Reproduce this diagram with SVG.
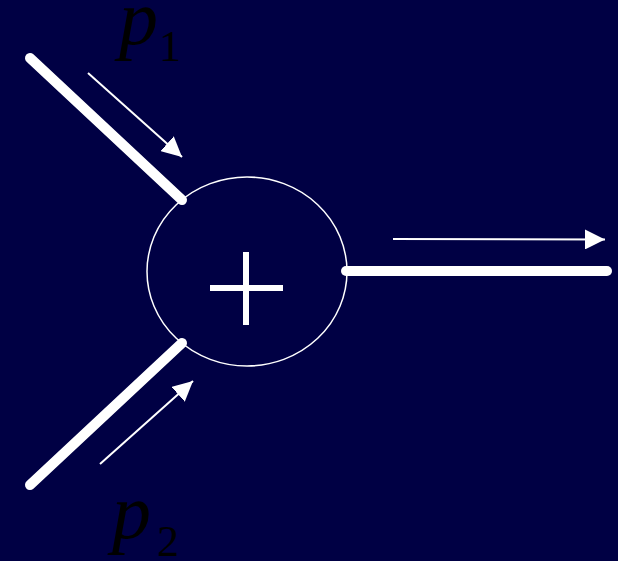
<svg xmlns="http://www.w3.org/2000/svg" width="618" height="561" viewBox="0 0 618 561">
<style>
.thick{stroke:#fff;stroke-width:10;stroke-linecap:round;fill:none}
.thin{stroke:#fff;stroke-width:2;fill:none}
.lbl{font-family:"Liberation Serif",serif;font-style:italic;fill:#000}
.sub{font-family:"Liberation Serif",serif;fill:#000}
</style>
<defs>
<marker id="ah" viewBox="0 0 20 20" refX="20" refY="10" markerWidth="20" markerHeight="20" markerUnits="userSpaceOnUse" orient="auto">
<path d="M0,0 L20,10 L0,20 Z" fill="#fff"/>
</marker>
</defs>
<rect width="618" height="561" fill="#000044"/>
<g id="connectors">
<line class="thick" x1="30" y1="58" x2="182" y2="200"/>
<line class="thick" x1="30" y1="485" x2="182" y2="343"/>
<line class="thick" x1="346" y1="271" x2="607" y2="271"/>
<line class="thin" x1="88" y1="73" x2="182" y2="157" marker-end="url(#ah)"/>
<line class="thin" x1="100" y1="464" x2="193" y2="381" marker-end="url(#ah)"/>
<line class="thin" x1="393" y1="239" x2="605" y2="239.5" marker-end="url(#ah)"/>
</g>
<g id="sum">
<ellipse cx="247" cy="271.5" rx="100" ry="94.5" fill="none" stroke="#fff" stroke-width="1.5"/>
<line x1="210" y1="288" x2="283" y2="288" stroke="#fff" stroke-width="6"/>
<line x1="246" y1="252" x2="246" y2="325" stroke="#fff" stroke-width="6"/>
</g>
<g id="p1">
<text class="lbl" x="119" y="44" font-size="78">p</text>
<text class="sub" x="159" y="61" font-size="44">1</text>
</g>
<g id="p2">
<text class="lbl" x="112" y="538" font-size="78">p</text>
<text class="sub" x="157" y="556" font-size="44">2</text>
</g>
</svg>
